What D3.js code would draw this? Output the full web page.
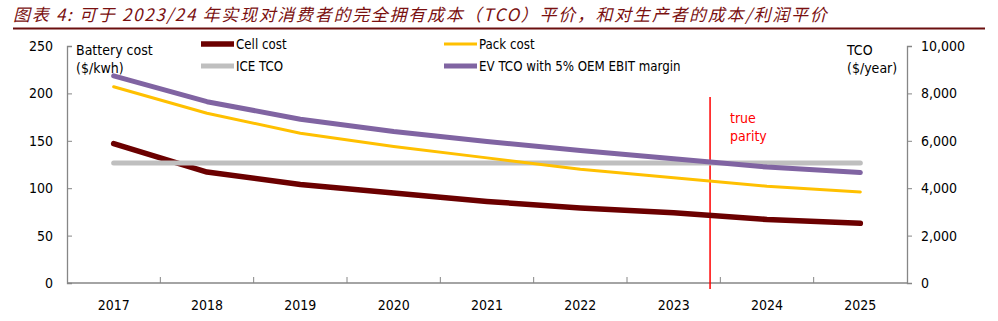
<!DOCTYPE html>
<html>
<head>
<meta charset="utf-8">
<script src="https://cdn.jsdelivr.net/npm/d3@7"></script>
<style>
    body { margin: 0; background: #fff; }
    svg text { font-family: Tahoma, "DejaVu Sans Condensed", "Liberation Sans", sans-serif; fill: #000; }
</style>
</head>
<body>
<svg id="chart"></svg>
<script>
const width = 998, height = 321
const margin = {
    top: 46,
    bottom: 38,
    left: 67,
    right: 91,
}

// data
const years = ["2017", "2018", "2019", "2020", "2021", "2022", "2023", "2024", "2025"]
const cellCost = [147, 117, 104, 95, 86, 79, 74, 67, 63]          // $/kwh, left axis
const packCost = [207, 179, 158, 144, 132, 120, 111, 102, 96]     // $/kwh, left axis
const iceTco = [5060, 5060, 5060, 5060, 5060, 5060, 5060, 5060, 5060]  // $/year, right axis
const evTco = [8740, 7650, 6910, 6390, 5970, 5590, 5240, 4890, 4660]  // $/year, right axis
const leftTicks = [0, 50, 100, 150, 200, 250]
const rightTicks = [0, 2000, 4000, 6000, 8000, 10000]
const parityYear = 2023.39

const series = [
    {name: "Cell cost", values: cellCost, axis: "left", color: "#6b0000", w: 5.5},
    {name: "ICE TCO", values: iceTco, axis: "right", color: "#bfbfbf", w: 5},
    {name: "Pack cost", values: packCost, axis: "left", color: "#ffc000", w: 3},
    {name: "EV TCO with 5% OEM EBIT margin", values: evTco, axis: "right", color: "#8064a2", w: 5},
]

const svg = d3.select("svg#chart")
    .attr("viewBox", [0, 0, width, height])
    .attr("width", width)
    .attr("height", height)

// title
svg.append("text")
    .attr("x", 13)
    .attr("y", 21)
    .attr("font-size", 17)
    .attr("font-style", "italic")
    .attr("letter-spacing", 1.7)
    .style("font-family", "'Noto Sans CJK SC', sans-serif")
    .style("fill", "#7a1010")
    .text("图表 4:  可于 2023/24 年实现对消费者的完全拥有成本（TCO）平价，和对生产者的成本/利润平价")

svg.append("line")
    .attr("x1", 13).attr("x2", 985)
    .attr("y1", 28.5).attr("y2", 28.5)
    .attr("stroke", "#6b0f0f")
    .attr("stroke-width", 2)

const xScale = d3.scaleBand()
    .domain(years)
    .range([margin.left, width - margin.right])

const xCenter = d3.scaleLinear()
    .domain([+years[0], +years[years.length - 1]])
    .range([xScale(years[0]) + xScale.bandwidth() / 2, xScale(years[years.length - 1]) + xScale.bandwidth() / 2])

const yLeft = d3.scaleLinear()
    .domain([0, 250])
    .range([height - margin.bottom, margin.top])

const yRight = d3.scaleLinear()
    .domain([0, 10000])
    .range([height - margin.bottom, margin.top])

const axisColor = "#868686"

// X axis
const xAxis = svg.append("g").classed("x-axis", true)
    .attr("transform", `translate(0, ${yLeft(0)})`)
xAxis.append("line")
    .attr("x1", margin.left).attr("x2", width - margin.right)
    .attr("stroke", axisColor).attr("stroke-width", 1.3)
xAxis.selectAll("line.tick")
    .data(years.slice(1))
    .enter()
    .append("line")
    .attr("x1", d => xScale(d))
    .attr("x2", d => xScale(d))
    .attr("y1", 0)
    .attr("y2", -6)
    .attr("stroke", axisColor)
xAxis.selectAll("text")
    .data(years)
    .enter()
    .append("text")
    .attr("x", d => xScale(d) + xScale.bandwidth() / 2)
    .attr("y", 27)
    .attr("text-anchor", "middle")
    .attr("font-size", 14)
    .text(d => d)

// Y left axis
svg.append("g").classed("y-left", true)
    .attr("transform", `translate(${margin.left}, 0)`)
    .call(d3.axisRight(yLeft).tickValues(leftTicks).tickSize(5).tickFormat(""))
    .call(g => g.selectAll("line, path").attr("stroke", axisColor))
    .call(g => g.select("path").attr("stroke-width", 1.3))
svg.append("g")
    .selectAll("text")
    .data(leftTicks)
    .enter()
    .append("text")
    .attr("x", 53)
    .attr("y", d => yLeft(d) + 5)
    .attr("text-anchor", "end")
    .attr("font-size", 14)
    .text(d => d)

// Y right axis
svg.append("g").classed("y-right", true)
    .attr("transform", `translate(${width - margin.right}, 0)`)
    .call(d3.axisRight(yRight).tickValues(rightTicks).tickSize(5).tickFormat(""))
    .call(g => g.selectAll("line, path").attr("stroke", axisColor))
    .call(g => g.select("path").attr("stroke-width", 1.3))
svg.append("g")
    .selectAll("text")
    .data(rightTicks)
    .enter()
    .append("text")
    .attr("x", 921)
    .attr("y", d => yRight(d) + 5)
    .attr("font-size", 14)
    .text(d => d3.format(",")(d))

// axis titles
const leftTitle = svg.append("text").attr("font-size", 14)
leftTitle.append("tspan").attr("x", 76).attr("y", 55).text("Battery cost")
leftTitle.append("tspan").attr("x", 76).attr("y", 73).text("($/kwh)")
const rightTitle = svg.append("text").attr("font-size", 14)
rightTitle.append("tspan").attr("x", 847).attr("y", 55).text("TCO")
rightTitle.append("tspan").attr("x", 847).attr("y", 73).text("($/year)")

// parity marker
svg.append("line")
    .attr("x1", xCenter(parityYear)).attr("x2", xCenter(parityYear))
    .attr("y1", 97).attr("y2", yLeft(0) + 6)
    .attr("stroke", "#ff0000")
    .attr("stroke-width", 1.5)
const parity = svg.append("text").attr("font-size", 14).style("fill", "#ff0000")
parity.append("tspan").attr("x", 730).attr("y", 123).text("true")
parity.append("tspan").attr("x", 730).attr("y", 141).text("parity")

// lines
const lineGen = axis => d3.line()
    .x((_, i) => xScale(years[i]) + xScale.bandwidth() / 2)
    .y(d => axis === "left" ? yLeft(d) : yRight(d))

svg.append("g").classed("lines", true)
    .selectAll("path")
    .data(series)
    .enter()
    .append("path")
    .attr("d", d => lineGen(d.axis)(d.values))
    .attr("fill", "none")
    .attr("stroke", d => d.color)
    .attr("stroke-width", d => d.w)
    .attr("stroke-linecap", "round")
    .attr("stroke-linejoin", "round")

// legend
const legendPos = [[200, 44], [200, 66], [443, 44], [443, 66]]
const legend = svg.append("g").classed("legend", true)
    .selectAll("g")
    .data(series)
    .enter()
    .append("g")
    .attr("transform", (d, i) => `translate(${legendPos[i][0]}, ${legendPos[i][1]})`)
legend.append("line")
    .attr("x1", 1).attr("x2", 34)
    .attr("stroke", d => d.color)
    .attr("stroke-width", d => d.w)
legend.append("text")
    .attr("x", 36)
    .attr("y", 5)
    .attr("font-size", 13.2)
    .text(d => d.name)
</script>
</body>
</html>
